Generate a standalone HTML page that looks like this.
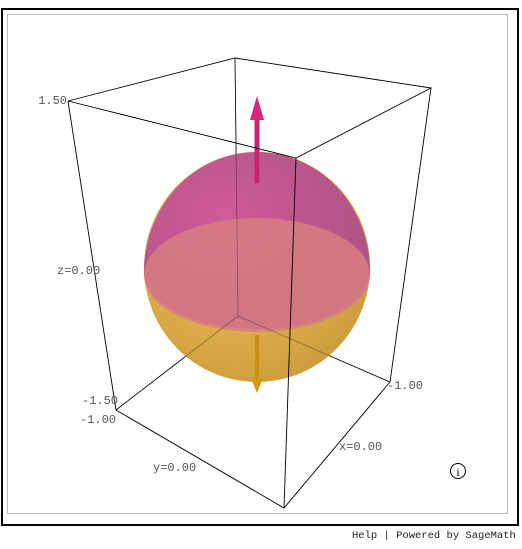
<!DOCTYPE html>
<html><head><meta charset="utf-8"><style>
body{margin:0;background:#fff;width:522px;height:549px;overflow:hidden;font-family:"Liberation Mono",monospace}
#frame{position:absolute;left:1px;top:8px;width:514px;height:514px;border:2px solid #000}
#inner{position:absolute;left:7px;top:14px;width:499px;height:498px;border:1px solid #bbb}
#footer{position:absolute;left:352px;top:530px;font-size:10.5px;color:#222;white-space:pre}
svg{position:absolute;left:0;top:0}
</style></head><body>
<div id="frame"></div>
<div id="inner"></div>
<svg width="522" height="549">
<defs>
<radialGradient id="gG" cx="0.4" cy="0.4" r="0.7"><stop offset="0" stop-color="#f2c25a"/><stop offset="1" stop-color="#c99a3a"/></radialGradient>
<radialGradient id="pG" cx="0.35" cy="0.35" r="0.75"><stop offset="0" stop-color="#d05a98"/><stop offset="1" stop-color="#a85480"/></radialGradient>
</defs>
<g stroke="#000" stroke-width="0.8" fill="none">
<line x1="116" y1="410" x2="238" y2="316"/>
<line x1="238" y1="316" x2="390" y2="382"/>
<line x1="235" y1="58" x2="238" y2="316"/>
</g>
<ellipse cx="257" cy="267" rx="113" ry="115" fill="url(#gG)"/>
<path d="M144 272 A113 120 0 0 1 370 272 A113 57 0 0 1 144 272 Z" fill="url(#pG)"/>
<ellipse cx="257" cy="275" rx="113" ry="57" fill="#d87c84" opacity="0.85"/>
<g stroke="#000" stroke-width="0.8" fill="none" opacity="0.35">
<line x1="116" y1="410" x2="238" y2="316"/><line x1="238" y1="316" x2="390" y2="382"/><line x1="235" y1="58" x2="238" y2="316"/>
</g>
<g>
<rect x="254.5" y="116" width="5" height="67" fill="#c8236e"/>
<polygon points="257,96 250,120 264,120" fill="#d42a7a"/>
</g>
<g>
<rect x="255" y="335" width="4" height="45" fill="#c9900f"/>
<polygon points="257,393 251,378 263,378" fill="#d6950e"/>
</g>
<g stroke="#000" stroke-width="0.9" fill="none">
<polyline points="68,101 235,58 431,88 296,158 68,101"/>
<polyline points="116,410 284,508 390,382"/>
<line x1="68" y1="101" x2="116" y2="410"/>
<line x1="431" y1="88" x2="390" y2="382"/>
<line x1="296" y1="158" x2="284" y2="508"/>
</g>
<g font-family="Liberation Mono, monospace" font-size="12" fill="#555">
<text x="67" y="104" text-anchor="end">1.50</text>
<text x="57" y="274">z=0.00</text>
<text x="82" y="404">-1.50</text>
<text x="80" y="423">-1.00</text>
<text x="153" y="471">y=0.00</text>
<text x="339" y="450">x=0.00</text>
<text x="387" y="389">-1.00</text>
</g>
<g>
<circle cx="458" cy="471" r="7.5" fill="#fff" stroke="#000" stroke-width="1"/>
<text x="458" y="476" text-anchor="middle" font-family="Liberation Serif, serif" font-size="12">i</text>
</g>
</svg>
<div id="footer">Help | Powered by SageMath</div>
</body></html>
